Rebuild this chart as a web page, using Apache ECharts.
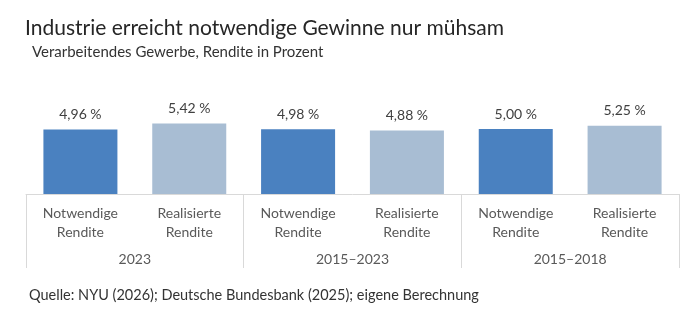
<!DOCTYPE html>
<html>
<head>
<meta charset="utf-8">
<script src="https://cdn.jsdelivr.net/npm/echarts@6/dist/echarts.min.js"></script>
<style>
  html, body { margin: 0; padding: 0; background: #fff; }
  #main { width: 700px; height: 317px; }
</style>
</head>
<body>
<div id="main"></div>
<script>
// data
var categories = ['Notwendige\nRendite', 'Realisierte\nRendite',
                  'Notwendige\nRendite', 'Realisierte\nRendite',
                  'Notwendige\nRendite', 'Realisierte\nRendite'];
var groups = ['2023', '2015–2023', '2015–2018'];
var values = [4.96, 5.42, 4.98, 4.88, 5.00, 5.25];

var darkBlue = '#4a81c0';
var lightBlue = '#a8bdd3';
var font = 'Lato, "Open Sans", sans-serif';

var chart = echarts.init(document.getElementById('main'));

chart.setOption({
    backgroundColor: '#fff',
    animation: false,
    textStyle: { fontFamily: font },
    title: [{
        text: 'Industrie erreicht notwendige Gewinne nur mühsam',
        left: 20, top: 13,
        textStyle: { fontSize: 21, fontWeight: 'normal', color: '#262626', fontFamily: font }
    }, {
        text: 'Verarbeitendes Gewerbe, Rendite in Prozent',
        left: 27, top: 40,
        textStyle: { fontSize: 15, fontWeight: 'normal', color: '#333', fontFamily: font }
    }, {
        text: 'Quelle: NYU (2026); Deutsche Bundesbank (2025); eigene Berechnung',
        left: 24, top: 283,
        textStyle: { fontSize: 14.5, fontWeight: 'normal', color: '#333', fontFamily: font }
    }],
    grid: { left: 26, right: 21, top: 90, height: 104, containLabel: false },
    xAxis: [{
        type: 'category',
        data: categories,
        position: 'bottom',
        axisLine: { lineStyle: { color: '#d9d9d9', width: 1 } },
        axisTick: { show: false },
        axisLabel: { color: '#595959', fontSize: 14, lineHeight: 19, margin: 10, interval: 0 }
    }, {
        type: 'category',
        data: groups,
        position: 'bottom',
        axisLine: { show: false },
        axisTick: { show: true, length: 74, lineStyle: { color: '#d9d9d9' } },
        axisLabel: { color: '#595959', fontSize: 14, margin: 58, interval: 0 }
    }],
    yAxis: {
        type: 'value',
        min: 0, max: 8,
        show: false,
        splitLine: { show: false }
    },
    series: [{
        type: 'bar',
        xAxisIndex: 0,
        data: values.map(function (v, i) {
            return { value: v, itemStyle: { color: i % 2 === 0 ? darkBlue : lightBlue } };
        }),
        barWidth: '68%',
        label: {
            show: true,
            position: 'top',
            distance: 8,
            color: '#404040',
            fontSize: 14,
            fontFamily: font,
            formatter: function (p) {
                return p.value.toFixed(2).replace('.', ',') + ' %';
            }
        }
    }]
});
</script>
</body>
</html>
